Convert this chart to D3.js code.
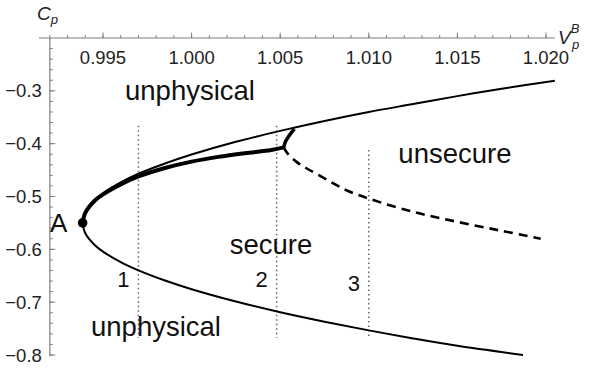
<!DOCTYPE html>
<html>
<head>
<meta charset="utf-8">
<script src="https://cdn.jsdelivr.net/npm/d3@7"></script>
<style>
  body { margin: 0; background: #fff; }
  svg { display: block; font-family: "Liberation Sans", Arial, sans-serif; }
</style>
</head>
<body>
<svg id="chart" width="591" height="371"></svg>
<script>
// values: [V_p^B, C_p]
var upperBranch = [[0.99385,-0.550],[0.9940,-0.530],[0.9945,-0.508],[0.9950,-0.494],[0.9960,-0.4735],
    [0.9970,-0.457],[0.9985,-0.4375],[1.0000,-0.4206],[1.0025,-0.3965],[1.0050,-0.3758],[1.0075,-0.357],
    [1.0100,-0.340],[1.0125,-0.325],[1.0150,-0.310],[1.0175,-0.296],[1.0205,-0.281]];
var lowerBranch = [[0.99385,-0.550],[0.9940,-0.5696],[0.9945,-0.5908],[0.9950,-0.6043],[0.9960,-0.6242],
    [0.9970,-0.6398],[0.9985,-0.6591],[1.0000,-0.6755],[1.0025,-0.6988],[1.0050,-0.719],[1.0075,-0.7369],
    [1.0100,-0.7534],[1.0125,-0.7686],[1.0150,-0.7827],[1.0187,-0.800]];
var secureBranch = [[0.99385,-0.550],[0.9940,-0.531],[0.9945,-0.509],[0.9950,-0.496],[0.9960,-0.477],
    [0.9970,-0.462],[0.9985,-0.446],[1.0000,-0.434],[1.0015,-0.425],[1.0030,-0.418],[1.0045,-0.412],[1.0052,-0.407]];
var cuspSpur = [[1.0052,-0.407],[1.0053,-0.396],[1.0055,-0.385],[1.0058,-0.372]];
var unsecureBranch = [[1.0052,-0.407],[1.0054,-0.418],[1.0059,-0.434],[1.0065,-0.447],[1.0071,-0.458],
    [1.0080,-0.475],[1.0088,-0.489],[1.0100,-0.504],[1.0125,-0.529],[1.0150,-0.548],[1.0175,-0.565],[1.0197,-0.580]];
var pointA = [0.99385, -0.550];
var cuts = [{v: 0.997, top: -0.366, bottom: -0.768, label: "1"},
            {v: 1.0048, top: -0.366, bottom: -0.768, label: "2"},
            {v: 1.010, top: -0.412, bottom: -0.768, label: "3"}];
var xTicks = [0.995, 1.000, 1.005, 1.010, 1.015, 1.020];
var yTicks = [-0.3, -0.4, -0.5, -0.6, -0.7, -0.8];
var regionLabels = [{text: "unphysical", v: 0.99991, c: -0.317},
                    {text: "unsecure", v: 1.01486, c: -0.437},
                    {text: "secure", v: 1.00448, c: -0.609},
                    {text: "unphysical", v: 0.99799, c: -0.764}];

var svg = d3.select("#chart");

var x = d3.scaleLinear().domain([0.995, 1.020]).range([103, 546]);
var y = d3.scaleLinear().domain([-0.2, -0.8]).range([38, 355]);

var axisColor = "#7f7f7f";

// x axis along the top (Cp = -0.2)
var xAxis = svg.append("g").attr("transform", "translate(0," + y(-0.2) + ")");
xAxis.append("line").attr("x1", x(0.99138)).attr("x2", x(1.0205))
    .attr("stroke", axisColor).attr("stroke-width", 1.2);
xAxis.selectAll(".minor").data(d3.range(0.992, 1.0205, 0.001)).enter().append("line")
    .attr("x1", function(d) { return x(d); }).attr("x2", function(d) { return x(d); })
    .attr("y1", 0).attr("y2", -3).attr("stroke", axisColor);
xAxis.selectAll(".major").data(xTicks).enter().append("line")
    .attr("x1", function(d) { return x(d); }).attr("x2", function(d) { return x(d); })
    .attr("y1", 0).attr("y2", -5.5).attr("stroke", axisColor);
xAxis.selectAll("text").data(xTicks).enter().append("text")
    .attr("x", function(d) { return x(d); }).attr("y", 26)
    .attr("text-anchor", "middle").attr("font-size", 18.5).attr("fill", "#222")
    .text(function(d) { return d3.format(".3f")(d); });

// y axis at V = 0.992
var yAxis = svg.append("g").attr("transform", "translate(" + x(0.992) + ",0)");
yAxis.append("line").attr("y1", y(-0.2)).attr("y2", y(-0.803))
    .attr("stroke", axisColor).attr("stroke-width", 1.2);
yAxis.selectAll(".minor").data(d3.range(-0.22, -0.801, -0.02)).enter().append("line")
    .attr("y1", function(d) { return y(d); }).attr("y2", function(d) { return y(d); })
    .attr("x1", 0).attr("x2", 3).attr("stroke", axisColor);
yAxis.selectAll(".major").data(yTicks).enter().append("line")
    .attr("y1", function(d) { return y(d); }).attr("y2", function(d) { return y(d); })
    .attr("x1", 0).attr("x2", 5.5).attr("stroke", axisColor);
yAxis.selectAll("text").data(yTicks).enter().append("text")
    .attr("x", -8).attr("y", function(d) { return y(d); }).attr("dy", "0.36em")
    .attr("text-anchor", "end").attr("font-size", 18.5).attr("fill", "#222")
    .text(function(d) { return "\u2212" + d3.format(".1f")(-d); });

// axis titles
var cp = svg.append("text").attr("x", 37).attr("y", 20).attr("font-size", 19).attr("fill", "#222");
cp.append("tspan").attr("font-style", "italic").text("C");
cp.append("tspan").attr("font-style", "italic").attr("font-size", 13).attr("dy", 4).text("p");
var vp = svg.append("text").attr("x", 558).attr("y", 44).attr("font-size", 19).attr("fill", "#222");
vp.append("tspan").attr("font-style", "italic").text("V");
vp.append("tspan").attr("font-style", "italic").attr("font-size", 13).attr("dy", -11).text("B");
vp.append("tspan").attr("font-style", "italic").attr("font-size", 13).attr("x", 572).attr("dy", 16).text("p");

// vertical cuts
svg.selectAll(".cut").data(cuts).enter().append("line")
    .attr("x1", function(d) { return x(d.v); }).attr("x2", function(d) { return x(d.v); })
    .attr("y1", function(d) { return y(d.top); }).attr("y2", function(d) { return y(d.bottom); })
    .attr("stroke", "#666").attr("stroke-width", 1.5).attr("stroke-dasharray", "1.5,3");
svg.selectAll(".cutLabel").data(cuts).enter().append("text")
    .attr("x", function(d) { return x(d.v) - 15; })
    .attr("y", function(d, i) { return i == 2 ? 291 : 287; })
    .attr("text-anchor", "middle").attr("font-size", 22).attr("fill", "#111")
    .text(function(d) { return d.label; });

var line = d3.line()
    .x(function(d) { return x(d[0]); })
    .y(function(d) { return y(d[1]); })
    .curve(d3.curveCatmullRom.alpha(0.5));

svg.append("path").attr("d", line(upperBranch)).attr("fill", "none").attr("stroke", "#000").attr("stroke-width", 2);
svg.append("path").attr("d", line(lowerBranch)).attr("fill", "none").attr("stroke", "#000").attr("stroke-width", 2);
svg.append("path").attr("d", line(unsecureBranch)).attr("fill", "none").attr("stroke", "#000")
    .attr("stroke-width", 2.6).attr("stroke-dasharray", "9,6");
svg.append("path").attr("d", line(secureBranch)).attr("fill", "none").attr("stroke", "#000").attr("stroke-width", 4);
svg.append("path").attr("d", line(cuspSpur)).attr("fill", "none").attr("stroke", "#000").attr("stroke-width", 3.5);

svg.append("circle").attr("cx", x(pointA[0])).attr("cy", y(pointA[1])).attr("r", 4.8).attr("fill", "#000");
svg.append("text").attr("x", x(pointA[0]) - 24).attr("y", y(pointA[1]) + 9)
    .attr("text-anchor", "middle").attr("font-size", 26).attr("fill", "#111").text("A");

svg.selectAll(".region").data(regionLabels).enter().append("text")
    .attr("x", function(d) { return x(d.v); }).attr("y", function(d) { return y(d.c); })
    .attr("text-anchor", "middle").attr("font-size", 27.5).attr("fill", "#111")
    .text(function(d) { return d.text; });
</script>
</body>
</html>
